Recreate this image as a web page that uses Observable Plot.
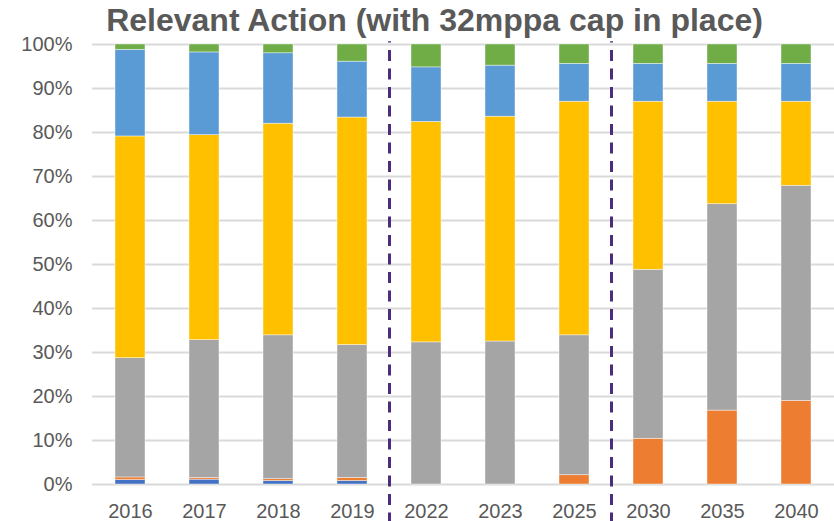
<!DOCTYPE html>
<html>
<head>
<meta charset="utf-8">
<script src="https://cdn.jsdelivr.net/npm/d3@7"></script>
<script src="https://cdn.jsdelivr.net/npm/@observablehq/plot@0.6"></script>
<style>
  html, body { margin: 0; padding: 0; background: #fff; }
</style>
</head>
<body>
<div id="chart"></div>
<script>
const title = "Relevant Action (with 32mppa cap in place)";
const years = ["2016", "2017", "2018", "2019", "2022", "2023", "2025", "2030", "2035", "2040"];
const seriesNames = ["Series 1", "Series 2", "Series 3", "Series 4", "Series 5", "Series 6"];
const seriesColors = ["#4472C4", "#ED7D31", "#A5A5A5", "#FFC000", "#5B9BD5", "#70AD47"];
// segment shares (%) bottom to top
const series1 = [1.0, 1.1, 0.8, 0.8, 0, 0, 0, 0, 0, 0];
const series2 = [0.6, 0.4, 0.4, 0.7, 0, 0, 2.1, 10.4, 16.8, 19.0];
const series3 = [27.1, 31.3, 32.7, 30.2, 32.3, 32.5, 31.8, 38.4, 46.9, 48.9];
const series4 = [50.4, 46.6, 48.1, 51.7, 50.1, 51.1, 53.1, 38.2, 23.3, 19.1];
const series5 = [19.7, 18.8, 16.0, 12.7, 12.4, 11.6, 8.6, 8.6, 8.6, 8.6];
const series6 = [1.2, 1.8, 2.0, 3.9, 5.2, 4.8, 4.4, 4.4, 4.4, 4.4];
const yTicks = [0, 10, 20, 30, 40, 50, 60, 70, 80, 90, 100];
const dividerAfter = ["2019", "2025"];

const allSeries = [series1, series2, series3, series4, series5, series6];
const data = [];
years.forEach((yr, i) => {
  allSeries.forEach((s, k) => data.push({year: yr, series: seriesNames[k], value: s[i]}));
});

const textColor = "#595959";

const chart = Plot.plot({
  width: 834,
  height: 521,
  marginLeft: 92,
  marginRight: 0,
  marginTop: 44,
  marginBottom: 37,
  style: {fontFamily: "'Liberation Sans', Arial, sans-serif", fontSize: "20px", color: textColor, background: "#fff", overflow: "visible"},
  x: {domain: years, paddingInner: 0.6, paddingOuter: 0.3, label: null, tickSize: 0, tickPadding: 19},
  y: {domain: [0, 100], ticks: yTicks, tickFormat: d => d + "%", label: null, tickSize: 0, tickPadding: 20},
  color: {domain: seriesNames, range: seriesColors},
  marks: [
    Plot.ruleY(yTicks, {stroke: "#d9d9d9", strokeWidth: 2}),
    Plot.barY(data, {x: "year", y: "value", fill: "series", z: "series", stroke: "#ffffff", strokeWidth: 0.6, strokeOpacity: 0.7}),
    Plot.ruleX(dividerAfter, {x: d => d, dx: 37, y1: -9, y2: 100.6, stroke: "#4B2C7D", strokeWidth: 3, strokeDasharray: "11,7.5"}),
    Plot.text([title], {frameAnchor: "top", dx: -29, dy: -14, text: d => d, fontSize: 32, fontWeight: "bold", fill: textColor, textAnchor: "middle", lineAnchor: "bottom"})
  ]
});
document.getElementById("chart").appendChild(chart);
</script>
</body>
</html>
